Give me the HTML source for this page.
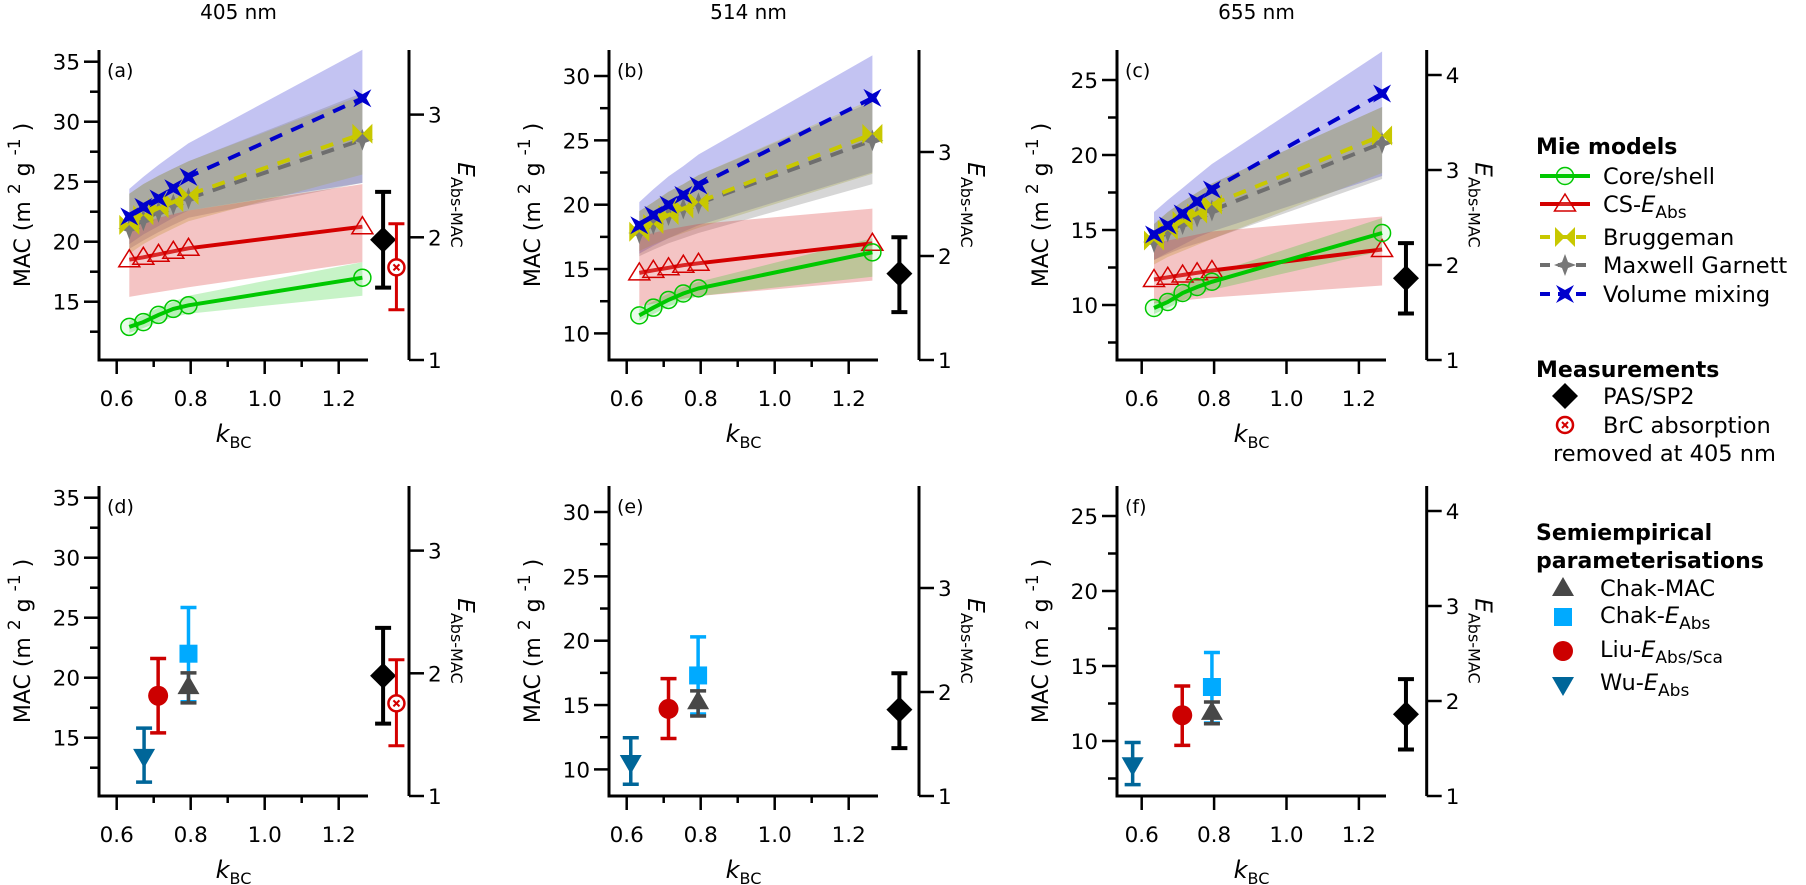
<!DOCTYPE html>
<html><head><meta charset="utf-8">
<style>
html,body{margin:0;padding:0;background:#fff;}
svg{display:block;font-family:"DejaVu Sans","Liberation Sans",sans-serif;}
</style></head>
<body>
<svg id="fig" width="1806" height="885" viewBox="0 0 1806 885" xmlns="http://www.w3.org/2000/svg"></svg>
<script>
// ---------- DATA ----------
const kBC = [0.634, 0.672, 0.713, 0.753, 0.794, 1.264];

const coreShell_405 = [12.9, 13.3, 13.9, 14.4, 14.7, 17.0];
const coreShellLo_405 = [12.4, 12.8, 13.3, 13.7, 14.0, 15.5];
const coreShellHi_405 = [13.4, 13.9, 14.5, 15.0, 15.5, 18.3];
const csEabs_405 = [18.5, 18.7, 18.95, 19.2, 19.45, 21.25];
const csEabsLo_405 = [15.4, 15.6, 15.8, 16.0, 16.2, 18.3];
const csEabsHi_405 = [21.3, 21.6, 22.0, 22.3, 22.6, 24.8];
const brugg_405 = [21.4, 22.2, 22.8, 23.3, 23.9, 29.0];
const bruggLo_405 = [19.0, 19.8, 20.5, 21.1, 21.7, 25.6];
const bruggHi_405 = [24.0, 24.8, 25.5, 26.1, 26.7, 32.2];
const mg_405 = [21.1, 21.8, 22.5, 23.1, 23.6, 28.5];
const mgLo_405 = [19.4, 20.1, 20.8, 21.4, 22.0, 24.9];
const mgHi_405 = [24.0, 24.8, 25.5, 26.1, 26.7, 32.4];
const vm_405 = [22.1, 22.9, 23.6, 24.45, 25.4, 31.95];
const vmLo_405 = [19.8, 20.6, 21.3, 22.0, 22.6, 24.9];
const vmHi_405 = [24.4, 25.4, 26.4, 27.3, 28.2, 36.0];

const coreShell_514 = [11.4, 12.0, 12.6, 13.1, 13.5, 16.3];
const coreShellLo_514 = [11.0, 11.5, 12.1, 12.5, 12.9, 14.4];
const coreShellHi_514 = [11.9, 12.5, 13.1, 13.6, 14.0, 17.4];
const csEabs_514 = [14.7, 14.9, 15.1, 15.3, 15.45, 17.0];
const csEabsLo_514 = [12.1, 12.3, 12.5, 12.7, 12.9, 14.1];
const csEabsHi_514 = [17.5, 17.8, 18.1, 18.3, 18.5, 19.7];
const brugg_514 = [17.9, 18.5, 19.2, 19.7, 20.2, 25.5];
const bruggLo_514 = [16.4, 16.9, 17.4, 17.8, 18.2, 22.4];
const bruggHi_514 = [19.5, 20.2, 21.0, 21.6, 22.3, 28.2];
const mg_514 = [17.8, 18.5, 19.2, 19.7, 20.1, 25.0];
const mgLo_514 = [16.0, 16.5, 17.0, 17.4, 17.8, 21.6];
const mgHi_514 = [19.5, 20.2, 21.0, 21.6, 22.3, 28.0];
const vm_514 = [18.4, 19.2, 20.0, 20.75, 21.5, 28.3];
const vmLo_514 = [16.2, 16.8, 17.4, 17.9, 18.4, 22.5];
const vmHi_514 = [20.2, 21.2, 22.2, 23.0, 23.9, 31.6];

const coreShell_655 = [9.8, 10.2, 10.8, 11.2, 11.55, 14.8];
const coreShellLo_655 = [9.4, 9.8, 10.3, 10.7, 11.0, 13.6];
const coreShellHi_655 = [10.2, 10.7, 11.3, 11.7, 12.1, 15.8];
const csEabs_655 = [11.7, 11.85, 12.0, 12.15, 12.3, 13.7];
const csEabsLo_655 = [10.1, 10.2, 10.3, 10.4, 10.5, 11.3];
const csEabsHi_655 = [14.1, 14.3, 14.5, 14.7, 14.9, 15.9];
const brugg_655 = [14.3, 15.0, 15.6, 16.1, 16.7, 21.3];
const bruggLo_655 = [12.7, 13.2, 13.6, 14.0, 14.4, 18.8];
const bruggHi_655 = [15.4, 16.2, 16.9, 17.5, 18.1, 23.2];
const mg_655 = [14.2, 14.9, 15.4, 15.9, 16.3, 20.8];
const mgLo_655 = [13.0, 13.4, 13.8, 14.1, 14.4, 18.4];
const mgHi_655 = [15.4, 16.2, 16.9, 17.5, 18.1, 23.2];
const vm_655 = [14.7, 15.3, 16.1, 16.9, 17.7, 24.1];
const vmLo_655 = [13.0, 13.5, 14.0, 14.5, 14.9, 18.6];
const vmHi_655 = [16.2, 17.0, 17.8, 18.6, 19.4, 26.9];

// measurements (E_Abs-MAC units), order 405, 514, 655
const measK = [1.32, 1.337, 1.33];
const measE = [1.98, 1.83, 1.86];
const measLo = [1.59, 1.46, 1.49];
const measHi = [2.37, 2.18, 2.23];
const brcK = [1.356];
const brcE = [1.755];
const brcLo = [1.41];
const brcHi = [2.11];

// semiempirical: order Chak-EAbs, Chak-MAC, Liu, Wu
const semiNames = ['chak-eabs', 'chak-mac', 'liu-eabs-sca', 'wu-eabs'];
const semiK_405 = [0.794, 0.794, 0.712, 0.674];
const semiV_405 = [22.0, 19.3, 18.5, 13.4];
const semiLo_405 = [18.0, 17.9, 15.4, 11.3];
const semiHi_405 = [25.85, 20.4, 21.6, 15.8];
const semiK_514 = [0.793, 0.793, 0.713, 0.611];
const semiV_514 = [17.3, 15.3, 14.7, 10.5];
const semiLo_514 = [14.3, 14.15, 12.4, 8.85];
const semiHi_514 = [20.3, 16.1, 17.05, 12.46];
const semiK_655 = [0.794, 0.794, 0.712, 0.575];
const semiV_655 = [13.6, 11.94, 11.72, 8.38];
const semiLo_655 = [11.2, 11.15, 9.71, 7.09];
const semiHi_655 = [15.9, 12.6, 13.67, 9.9];

const xTickLabels = ['0.6', '0.8', '1.0', '1.2'];
const xTickVals = [0.6, 0.8, 1.0, 1.2];

// ---------- RENDER ----------
const NS = 'http://www.w3.org/2000/svg';
const svg = document.getElementById('fig');
function el(tag, attrs, parent) {
  const e = document.createElementNS(NS, tag);
  for (const k in attrs) e.setAttribute(k, attrs[k]);
  (parent || svg).appendChild(e);
  return e;
}
const COL = {green:'#00c800', red:'#d40000', yellow:'#c8c800', grey:'#6e6e6e', blue:'#0000cc'};
const BAND = {green:'rgba(0,200,0,0.22)', red:'rgba(220,60,60,0.30)', yellow:'rgba(190,190,70,0.35)', grey:'rgba(120,120,120,0.30)', blue:'rgba(40,40,210,0.28)'};

const geo = [
  {xl:99, xe:368, xr:409, x06:116.7, kpx:370, refV:35, refY:61.7, mpx:12, epx:122.7, maj:[15,20,25,30,35], min:[12.5,17.5,22.5,27.5,32.5], eT:[1,2,3], xMin:true, title:'405 nm', key:'405'},
  {xl:609, xe:878, xr:919, x06:626.7, kpx:370, refV:30, refY:76, mpx:12.87, epx:104, maj:[10,15,20,25,30], min:[12.5,17.5,22.5,27.5], eT:[1,2,3], xMin:true, title:'514 nm', key:'514'},
  {xl:1117, xe:1386, xr:1426.7, x06:1141.7, kpx:362, refV:25, refY:80, mpx:15, epx:95, maj:[10,15,20,25], min:[7.5,12.5,17.5,22.5], eT:[1,2,3,4], xMin:false, title:'655 nm', key:'655'}
];
const TOP = 50, BOT = 360, DY = 436;
const modelData = {
  '405': {cs:[coreShell_405,coreShellLo_405,coreShellHi_405], ce:[csEabs_405,csEabsLo_405,csEabsHi_405], br:[brugg_405,bruggLo_405,bruggHi_405], mg:[mg_405,mgLo_405,mgHi_405], vm:[vm_405,vmLo_405,vmHi_405], sK:semiK_405, sV:semiV_405, sL:semiLo_405, sH:semiHi_405},
  '514': {cs:[coreShell_514,coreShellLo_514,coreShellHi_514], ce:[csEabs_514,csEabsLo_514,csEabsHi_514], br:[brugg_514,bruggLo_514,bruggHi_514], mg:[mg_514,mgLo_514,mgHi_514], vm:[vm_514,vmLo_514,vmHi_514], sK:semiK_514, sV:semiV_514, sL:semiLo_514, sH:semiHi_514},
  '655': {cs:[coreShell_655,coreShellLo_655,coreShellHi_655], ce:[csEabs_655,csEabsLo_655,csEabsHi_655], br:[brugg_655,bruggLo_655,bruggHi_655], mg:[mg_655,mgLo_655,mgHi_655], vm:[vm_655,vmLo_655,vmHi_655], sK:semiK_655, sV:semiV_655, sL:semiLo_655, sH:semiHi_655}
};

function marker(type, x, y, g, name) {
  let m;
  if (type === 'circle') m = el('circle', {cx:x, cy:y, r:8.5, fill:'rgba(0,200,0,0.08)', stroke:COL.green, 'stroke-width':1.5}, g);
  else if (type === 'tri') m = el('path', {d:`M${x},${y-10} L${x+10.5},${y+7} L${x-10.5},${y+7}Z`, fill:'rgba(255,255,255,0.15)', stroke:COL.red, 'stroke-width':1.5}, g);
  else if (type === 'bow') m = el('path', {d:`M${x-10},${y-10} L${x},${y} L${x-10},${y+10}Z M${x+10},${y-10} L${x},${y} L${x+10},${y+10}Z`, fill:COL.yellow}, g);
  else if (type === 'star') m = el('path', {d:`M${x},${y-11} L${x+3},${y-3} L${x+11},${y} L${x+3},${y+3} L${x},${y+11} L${x-3},${y+3} L${x-11},${y} L${x-3},${y-3}Z`, fill:'#777'}, g);
  else if (type === 'xstar') m = el('path', {d:`M${x-9},${y-9} L${x},${y-4} L${x+9},${y-9} L${x+4},${y} L${x+9},${y+9} L${x},${y+4} L${x-9},${y+9} L${x-4},${y}Z`, fill:COL.blue}, g);
  else if (type === 'diamond') m = el('path', {d:`M${x},${y-13} L${x+13},${y} L${x},${y+13} L${x-13},${y}Z`, fill:'#000'}, g);
  else if (type === 'brc') { m = el('g', {}, g); el('circle', {cx:x, cy:y, r:8, fill:'#fff', stroke:'#d40000', 'stroke-width':2.5}, m); el('path', {d:`M${x-3},${y-3} L${x+3},${y+3} M${x+3},${y-3} L${x-3},${y+3}`, stroke:'#d40000', 'stroke-width':2}, m); }
  else if (type === 'utri') m = el('path', {d:`M${x},${y-11} L${x+11},${y+8} L${x-11},${y+8}Z`, fill:'#474747'}, g);
  else if (type === 'square') m = el('rect', {x:x-9, y:y-9, width:18, height:18, fill:'#00aaff'}, g);
  else if (type === 'dot') m = el('circle', {cx:x, cy:y, r:10, fill:'#cc0000'}, g);
  else if (type === 'dtri') m = el('path', {d:`M${x-11},${y-8} L${x+11},${y-8} L${x},${y+11}Z`, fill:'#006699'}, g);
  
  
  return m;
}
function errbar(x, ylo, yhi, color, w, g, name) {
  const e = el('path', {d:`M${x},${ylo} L${x},${yhi} M${x-8},${ylo} L${x+8},${ylo} M${x-8},${yhi} L${x+8},${yhi}`, stroke:color, 'stroke-width':w, fill:'none'}, g);
  
  
}
function txt(x, y, s, attrs, g) {
  const t = el('text', Object.assign({x:x, y:y, 'font-size':21.5, fill:'#000'}, attrs || {}), g);
  t.textContent = s;
  return t;
}

geo.forEach((G, pi) => {
  [0, 1].forEach(row => {
    const dy = row * DY;
    const letter = '(' + 'abcdef'[pi + row * 3] + ')';
    const g = el('g', {});
    
    
    const X = k => G.x06 + (k - 0.6) * G.kpx;
    const Y = v => G.refY + (G.refV - v) * G.mpx + dy;
    const YE = e => BOT - (e - 1) * G.epx + dy;
    const D = modelData[G.key];

    if (row === 0) {
      const bands = [['vm','blue'],['br','yellow'],['mg','grey'],['ce','red'],['cs','green']];
      bands.forEach(([key, c]) => {
        const lo = D[key][1], hi = D[key][2];
        let d = kBC.map((k, i) => (i ? 'L' : 'M') + X(k).toFixed(1) + ',' + Y(hi[i]).toFixed(1)).join(' ');
        for (let i = kBC.length - 1; i >= 0; i--) d += ' L' + X(kBC[i]).toFixed(1) + ',' + Y(lo[i]).toFixed(1);
        const b = el('path', {d:d + 'Z', fill:BAND[c]}, g);
        
        
      });
      const series = [['ce','red','tri',false],['cs','green','circle',false],['mg','grey','star',true],['br','yellow','bow',true],['vm','blue','xstar',true]];
      series.forEach(([key, c, mk, dash]) => {
        const v = D[key][0];
        const pts = kBC.map((k, i) => X(k).toFixed(1) + ',' + Y(v[i]).toFixed(1)).join(' ');
        const attrs = {points:pts, fill:'none', stroke:COL[c], 'stroke-width':4};
        if (dash) attrs['stroke-dasharray'] = '13,10';
        const l = el('polyline', attrs, g);
        
        
        kBC.forEach((k, i) => marker(mk, X(k), Y(v[i]), g, key + '-marker'));
      });
    } else {
      [0, 1, 2, 3].forEach(i => {
        const cols = ['#00aaff', '#474747', '#cc0000', '#006699'];
        const mks = ['square', 'utri', 'dot', 'dtri'];
        const x = X(D.sK[i]);
        errbar(x, Y(D.sL[i]), Y(D.sH[i]), cols[i], 3.5, g, semiNames[i] + '-error-bar');
        marker(mks[i], x, Y(D.sV[i]), g, semiNames[i] + '-marker');
      });
    }
    const mx = X(measK[pi]);
    errbar(mx, YE(measLo[pi]), YE(measHi[pi]), '#000', 4, g, 'pas-sp2-error-bar');
    marker('diamond', mx, YE(measE[pi]), g, 'pas-sp2-marker');
    if (pi === 0) {
      const bx = X(brcK[0]);
      errbar(bx, YE(brcLo[0]), YE(brcHi[0]), '#d40000', 3, g, 'brc-error-bar');
      marker('brc', bx, YE(brcE[0]), g, 'brc-marker');
    }

    const ax = el('path', {d:`M${G.xl},${TOP+dy} L${G.xl},${BOT+dy} L${G.xe},${BOT+dy} M${G.xr},${TOP+dy} L${G.xr},${BOT+dy}`, stroke:'#000', 'stroke-width':3, fill:'none'}, g);
    
    
    G.maj.forEach(v => {
      el('line', {x1:G.xl-15, x2:G.xl, y1:Y(v), y2:Y(v), stroke:'#000', 'stroke-width':2.5}, g);
      const t = txt(G.xl - 19, Y(v) + 8, String(v), {'text-anchor':'end'}, g);
      
      
    });
    G.min.forEach(v => el('line', {x1:G.xl-9, x2:G.xl, y1:Y(v), y2:Y(v), stroke:'#000', 'stroke-width':2.5}, g));
    G.eT.forEach(e => {
      el('line', {x1:G.xr, x2:G.xr+15, y1:YE(e), y2:YE(e), stroke:'#000', 'stroke-width':2.5}, g);
      const t = txt(G.xr + 19, YE(e) + 8, String(e), {}, g);
      
      
    });
    xTickVals.forEach((k, i) => {
      el('line', {x1:X(k), x2:X(k), y1:BOT+dy, y2:BOT+dy+14, stroke:'#000', 'stroke-width':2.5}, g);
      const t = txt(X(k), BOT + dy + 46, xTickLabels[i], {'text-anchor':'middle'}, g);
      
      
    });
    if (G.xMin) [0.7, 0.9, 1.1].forEach(k => el('line', {x1:X(k), x2:X(k), y1:BOT+dy, y2:BOT+dy+7, stroke:'#000', 'stroke-width':2.5}, g));

    const pl = txt(G.xl + 8, TOP + dy + 27, letter, {'font-size':19}, g);
    
    

    const xt = el('text', {x:(G.xl + G.xe) / 2, y:BOT + dy + 82, 'font-size':21, 'text-anchor':'middle'}, g);
    
    
    xt.innerHTML = '<tspan font-style="italic" font-size="24">k</tspan><tspan font-size="16" dy="6">BC</tspan>';
    const yt = el('text', {x:0, y:0, 'font-size':22, 'text-anchor':'middle', transform:`translate(${G.xl-69},${205+dy}) rotate(-90)`}, g);
    
    
    yt.innerHTML = 'MAC (m <tspan font-size="17" dy="-10">2</tspan><tspan dy="10"> g </tspan><tspan font-size="17" dy="-10">-1</tspan><tspan dy="10"> )</tspan>';
    const rt = el('text', {x:0, y:0, 'font-size':21, 'text-anchor':'middle', transform:`translate(${G.xr+49},${205+dy}) rotate(90)`}, g);
    
    
    rt.innerHTML = '<tspan font-style="italic" font-size="23">E</tspan><tspan font-size="16" dy="7">Abs-MAC</tspan>';

    if (row === 0) {
      const tt = txt((G.xl + G.xe) / 2 + 5, 19, G.title, {'text-anchor':'middle', 'font-size':20}, g);
      
      
    }
  });
});

// ---------- LEGEND ----------
const L = el('g', {});


function head(y, s) {
  const t = txt(1536, y + 8, s, {'font-weight':'bold', 'font-size':22}, L);
  
  
}
function item(y, html, x) {
  const t = el('text', {x:x || 1603, y:y + 8, 'font-size':22.5}, L);
  t.innerHTML = html;
  
  
}
head(146, 'Mie models');
const legLines = [[176,'green',false,'circle','Core/shell'],[204,'red',false,'tri','CS-<tspan font-style="italic">E</tspan><tspan font-size="17" dy="6">Abs</tspan>'],[237,'yellow',true,'bow','Bruggeman'],[265,'grey',true,'star','Maxwell Garnett'],[294,'blue',true,'xstar','Volume mixing']];
legLines.forEach(([y, c, dash, mk, lab]) => {
  const a = {x1:1540, x2:1590, y1:y, y2:y, stroke:COL[c], 'stroke-width':4};
  if (dash) a['stroke-dasharray'] = '10,8';
  el('line', a, L);
  marker(mk, 1565, y, L, 'legend-marker');
  item(y, lab);
});
head(369, 'Measurements');
marker('diamond', 1565, 396, L, 'legend-marker');
item(396, 'PAS/SP2');
marker('brc', 1565, 425, L, 'legend-marker');
item(425, 'BrC absorption');
item(453, 'removed at 405 nm', 1553);
head(532, 'Semiempirical');
head(560, 'parameterisations');
marker('utri', 1563, 588, L, 'legend-marker');
item(588, 'Chak-MAC', 1600);
marker('square', 1563, 617, L, 'legend-marker');
item(615, 'Chak-<tspan font-style="italic">E</tspan><tspan font-size="17" dy="6">Abs</tspan>', 1600);
marker('dot', 1563, 651, L, 'legend-marker');
item(649, 'Liu-<tspan font-style="italic">E</tspan><tspan font-size="17" dy="6">Abs/Sca</tspan>', 1600);
marker('dtri', 1563, 685, L, 'legend-marker');
item(682, 'Wu-<tspan font-style="italic">E</tspan><tspan font-size="17" dy="6">Abs</tspan>', 1600);
</script>
</body></html>
